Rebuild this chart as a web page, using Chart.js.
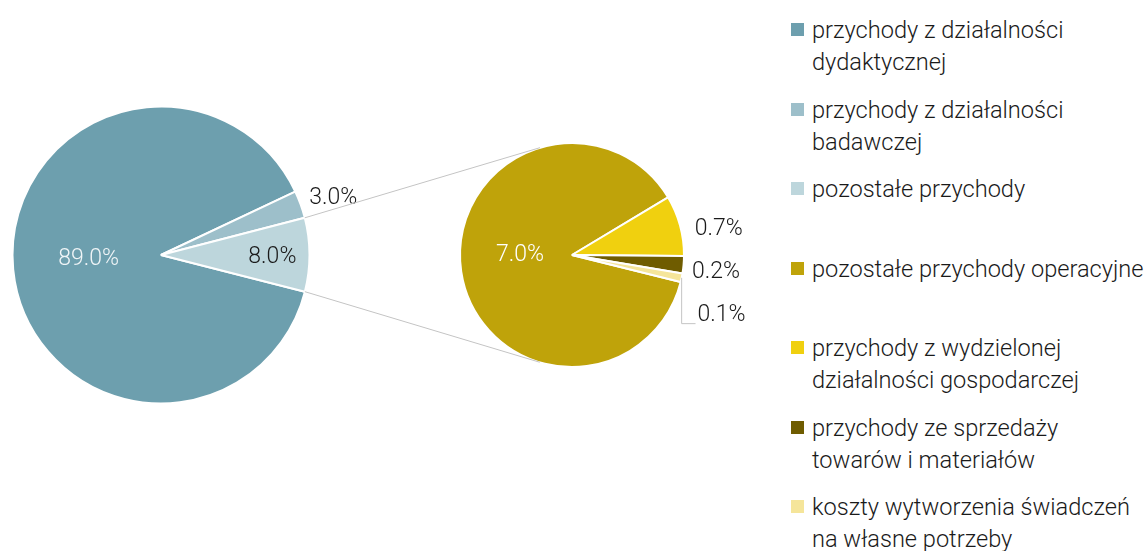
<!DOCTYPE html>
<html lang="pl">
<head>
<meta charset="utf-8">
<script src="https://cdn.jsdelivr.net/npm/chart.js@4.4.1/dist/chart.umd.min.js"></script>
<style>
  html, body { margin: 0; padding: 0; background: #fff; }
  #wrap { position: relative; width: 1146px; height: 551px; overflow: hidden; }
  #wrap canvas { position: absolute; left: 0; top: 0; }
  #legend { position: absolute; left: 791px; top: 0; font-family: Roboto, sans-serif; font-weight: 300;
            font-size: 23.6px; line-height: 32px; color: #1a1a1a; }
  .item { position: absolute; left: 0; white-space: nowrap; }
  .sw { position: absolute; left: 0; top: 9px; width: 13px; height: 13px; }
  .txt { position: absolute; left: 21px; top: 0; }
</style>
</head>
<body>
<div id="wrap">
  <canvas id="mainPie" width="780" height="551"></canvas>
  <canvas id="detailPie" width="780" height="551"></canvas>
  <div id="legend"></div>
</div>
<script>
// main pie (share of total, %)
const mainLabels = [
  ['przychody z działalności', 'dydaktycznej'],
  ['przychody z działalności', 'badawczej'],
  ['pozostałe przychody']
];
const mainValues = [89.0, 3.0, 8.0];

// breakdown of "pozostałe przychody" (share of total, %)
const detailLabels = [
  ['pozostałe przychody operacyjne'],
  ['przychody z wydzielonej', 'działalności gospodarczej'],
  ['przychody ze sprzedaży', 'towarów i materiałów'],
  ['koszty wytworzenia świadczeń', 'na własne potrzeby']
];
const detailValues = [7.0, 0.7, 0.2, 0.1];

const mainColors = ['#6d9fae', '#9dbfca', '#bdd6dc'];
const detailColors = ['#bfa30a', '#f0d00f', '#6f5c00', '#f5e59a'];

const FONT = '300 23px Roboto, sans-serif';
const LINE = '#c4c4c4';

// label placement: r = fraction of radius along slice middle, dx/dy nudges
const mainLabelPos = [
  { r: 0.49, dy: -3, color: '#f0f5f7' },
  { r: 1.22, dx: 2, dy: 5, color: '#1a1a1a' },
  { r: 0.75, dy: 2, color: '#1a1a1a' }
];
const detailLabelPos = [
  { r: 0.47, dy: -8, color: '#ffffff' },
  { r: 1.33, dx: 3, dy: 13, color: '#1a1a1a' },
  { r: 1.30, dx: -1, dy: 5, color: '#1a1a1a' },
  { r: 1.30, dx: 7, dy: 31, color: '#1a1a1a', leader: true }
];

function padFor(cx, cy, r, w, h) {
  const s = 2 * r + 2; // + border width
  return { left: cx - s / 2, top: cy - s / 2, right: w - (cx - s / 2) - s, bottom: h - (cy - s / 2) - s };
}

const labelPlugin = {
  id: 'sliceLabels',
  afterDraw(chart, args, opts) {
    const ctx = chart.ctx;
    const meta = chart.getDatasetMeta(0);
    const values = chart.data.datasets[0].data;
    ctx.save();
    ctx.font = FONT;
    ctx.textAlign = 'center';
    ctx.textBaseline = 'middle';
    meta.data.forEach((arc, i) => {
      const p = opts.pos[i];
      const mid = (arc.startAngle + arc.endAngle) / 2;
      const x = arc.x + Math.cos(mid) * arc.outerRadius * p.r + (p.dx || 0);
      const y = arc.y + Math.sin(mid) * arc.outerRadius * p.r + (p.dy || 0);
      const text = values[i].toFixed(1) + '%';
      if (p.leader) {
        const w = ctx.measureText(text).width;
        const ex = arc.x + Math.cos(mid) * arc.outerRadius;
        const ey = arc.y + Math.sin(mid) * arc.outerRadius;
        ctx.strokeStyle = LINE;
        ctx.lineWidth = 1;
        ctx.beginPath();
        ctx.moveTo(ex, ey);
        ctx.lineTo(ex, y + 8);
        ctx.lineTo(x - w / 2 - 2, y + 8);
        ctx.stroke();
      }
      ctx.fillStyle = p.color;
      ctx.fillText(text, x, y);
    });
    ctx.restore();
  }
};

const mainChart = new Chart(document.getElementById('mainPie'), {
  type: 'pie',
  data: {
    labels: mainLabels,
    datasets: [{ data: mainValues, backgroundColor: mainColors, borderColor: '#ffffff', borderWidth: 2 }]
  },
  options: {
    responsive: false,
    animation: false,
    rotation: 104.3,
    layout: { padding: padFor(161, 255, 148.5, 780, 551) },
    plugins: { legend: { display: false }, tooltip: { enabled: false }, sliceLabels: { pos: mainLabelPos } }
  },
  plugins: [labelPlugin]
});

// connector lines from the broken-out slice to the second pie (tangents)
const connectorPlugin = {
  id: 'connectors',
  afterDraw(chart) {
    const src = mainChart.getDatasetMeta(0).data[2];
    const dst = chart.getDatasetMeta(0).data[0];
    const R = dst.outerRadius;
    const ctx = chart.ctx;
    ctx.save();
    ctx.strokeStyle = LINE;
    ctx.lineWidth = 1;
    [[src.startAngle, -1], [src.endAngle, 1]].forEach(([a, side]) => {
      const px = src.x + Math.cos(a) * src.outerRadius;
      const py = src.y + Math.sin(a) * src.outerRadius;
      const dx = dst.x - px, dy = dst.y - py;
      const d = Math.hypot(dx, dy);
      const dir = Math.atan2(dy, dx) + side * Math.asin(R / d);
      const L = Math.sqrt(d * d - R * R);
      ctx.beginPath();
      ctx.moveTo(px, py);
      ctx.lineTo(px + Math.cos(dir) * L, py + Math.sin(dir) * L);
      ctx.stroke();
    });
    ctx.restore();
  }
};

new Chart(document.getElementById('detailPie'), {
  type: 'pie',
  data: {
    labels: detailLabels,
    datasets: [{ data: detailValues, backgroundColor: detailColors, borderColor: '#ffffff', borderWidth: 2 }]
  },
  options: {
    responsive: false,
    animation: false,
    rotation: 104,
    layout: { padding: padFor(572, 255, 112, 780, 551) },
    plugins: { legend: { display: false }, tooltip: { enabled: false }, sliceLabels: { pos: detailLabelPos } }
  },
  plugins: [labelPlugin, connectorPlugin]
});

// legend
const legend = document.getElementById('legend');
const allLabels = mainLabels.concat(detailLabels);
const allColors = mainColors.concat(detailColors);
allLabels.forEach((lines, i) => {
  const item = document.createElement('div');
  item.className = 'item';
  item.style.top = (14 + i * 79.5) + 'px';
  const sw = document.createElement('span');
  sw.className = 'sw';
  sw.style.background = allColors[i];
  const txt = document.createElement('span');
  txt.className = 'txt';
  txt.innerHTML = lines.join('<br>');
  item.appendChild(sw);
  item.appendChild(txt);
  legend.appendChild(item);
});
</script>
</body>
</html>
